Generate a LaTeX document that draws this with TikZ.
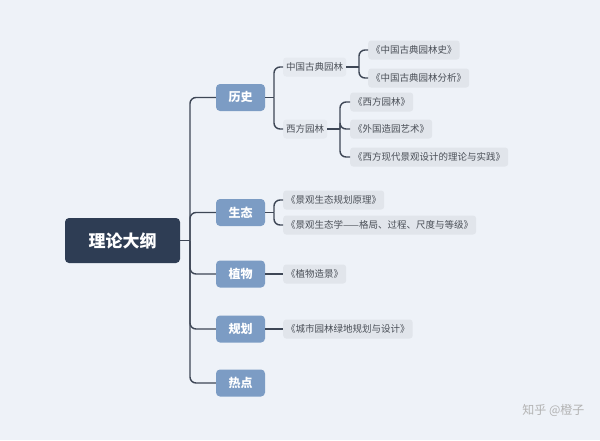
\documentclass[tikz,border=0pt]{standalone}
\usepackage{fontspec}
\newfontfamily\cjk{Noto Sans CJK SC}
\newfontfamily\cjkb{Noto Sans CJK SC Bold}
\definecolor{bg}{HTML}{EEF2F8}
\definecolor{rootc}{HTML}{2E3D54}
\definecolor{lvc}{HTML}{7C9CC4}
\definecolor{leafc}{HTML}{E1E5EB}
\definecolor{linec}{HTML}{3E4756}
\definecolor{txtc}{HTML}{4A4F57}
\begin{document}
\begin{tikzpicture}[x=1pt,y=-1pt,
  rootbox/.style={fill=rootc,rounded corners=4pt,minimum width=115pt,minimum height=45pt,text=white,font=\cjk\bfseries\fontsize{17}{20}\selectfont,inner sep=0pt},
  lvbox/.style={fill=lvc,rounded corners=4pt,minimum width=49pt,minimum height=27pt,text=white,font=\cjk\bfseries\fontsize{12}{14}\selectfont,inner sep=0pt},
  subbox/.style={fill=leafc!60!bg,rounded corners=3pt,minimum height=19pt,inner xsep=3pt,inner ysep=0pt,text=txtc,font=\cjk\fontsize{9.5}{11}\selectfont,anchor=west},
  leafbox/.style={fill=leafc,rounded corners=3pt,minimum height=19pt,inner xsep=3pt,inner ysep=0pt,text=txtc,font=\cjk\fontsize{9.5}{11}\selectfont,anchor=west},
  conn/.style={draw=linec,line width=1.4pt,rounded corners=6pt}]
\fill[bg] (0,0) rectangle (600,440);
\useasboundingbox (0,0) rectangle (600,440);
% root
\node[rootbox] (root) at (122.5,240.5) {理论大纲};
% level 1
\node[lvbox] (ls) at (240.5,97.5) {历史};
\node[lvbox] (st) at (240.5,212.5) {生态};
\node[lvbox] (zw) at (240.5,274) {植物};
\node[lvbox] (gh) at (240.5,329) {规划};
\node[lvbox] (rd) at (240.5,383) {热点};
% level 2
\node[subbox] (zg) at (283,67) {中国古典园林};
\node[subbox] (xf) at (283,129) {西方园林};
% leaves
\node[leafbox] (a1) at (368,50) {《中国古典园林史》};
\node[leafbox] (a2) at (368,78) {《中国古典园林分析》};
\node[leafbox] (b1) at (350,102) {《西方园林》};
\node[leafbox] (b2) at (350,129) {《外国造园艺术》};
\node[leafbox] (b3) at (350,157) {《西方现代景观设计的理论与实践》};
\node[leafbox] (c1) at (283,200) {《景观生态规划原理》};
\node[leafbox] (c2) at (283,225) {《景观生态学——格局、过程、尺度与等级》};
\node[leafbox] (d1) at (283,274) {《植物造景》};
\node[leafbox] (e1) at (283,329) {《城市园林绿地规划与设计》};
% junctions
\coordinate (j0) at (190,240.5);
\coordinate (j1) at (274,97.5);
\coordinate (j2) at (359,67);
\coordinate (j3) at (340,129);
\coordinate (j4) at (274,212.5);
% connectors
\draw[conn] (root.east) -- (j0);
\foreach \n in {ls,st,zw,gh,rd} \draw[conn] (j0) |- (\n.west);
\draw[conn] (ls.east) -- (j1);
\foreach \n in {zg,xf} \draw[conn] (j1) |- (\n.west);
\draw[conn] (zg.east) -- (j2);
\foreach \n in {a1,a2} \draw[conn] (j2) |- (\n.west);
\draw[conn] (xf.east) -- (j3);
\foreach \n in {b1,b2,b3} \draw[conn] (j3) |- (\n.west);
\draw[conn] (st.east) -- (j4);
\foreach \n in {c1,c2} \draw[conn] (j4) |- (\n.west);
\draw[conn] (zw.east) -- (d1.west);
\draw[conn] (gh.east) -- (e1.west);
% watermark
\node[text=black!30,font=\cjk\fontsize{12}{14}\selectfont,anchor=east] (wm) at (588,410) {知乎 @橙子};
\end{tikzpicture}
\end{document}
